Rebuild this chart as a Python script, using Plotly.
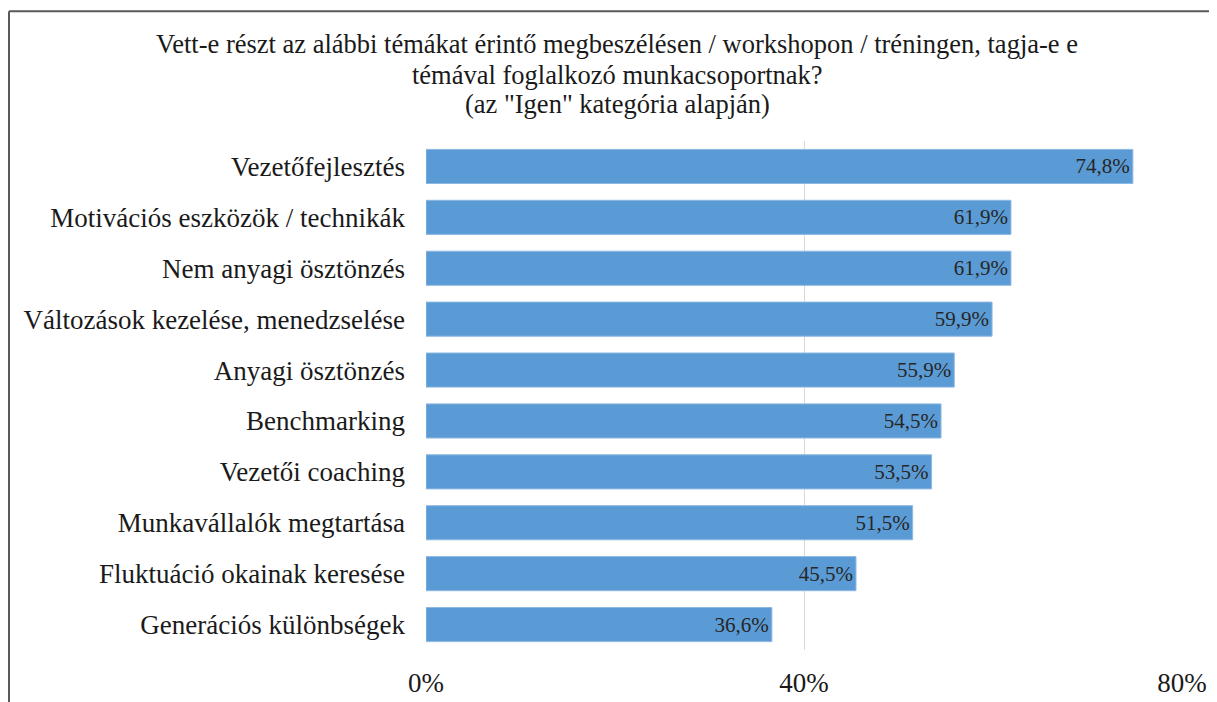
import plotly.graph_objects as go

categories = [
    "Vezetőfejlesztés",
    "Motivációs eszközök / technikák",
    "Nem anyagi ösztönzés",
    "Változások kezelése, menedzselése",
    "Anyagi ösztönzés",
    "Benchmarking",
    "Vezetői coaching",
    "Munkavállalók megtartása",
    "Fluktuáció okainak keresése",
    "Generációs különbségek",
]
values = [74.8, 61.9, 61.9, 59.9, 55.9, 54.5, 53.5, 51.5, 45.5, 36.6]
tick_vals = [0, 40, 80]
tick_text = ["0%", "40%", "80%"]
title_lines = [
    "Vett-e részt az alábbi témákat érintő megbeszélésen / workshopon / tréningen, tagja-e e",
    "témával foglalkozó munkacsoportnak?",
    '(az "Igen" kategória alapján)',
]

# page body has an 8px margin; figure coordinates are offset by it
W, H = 1209, 694
ML, MR, MT, MB = 418, 35, 132.5, 51.5
FONT = "Liberation Serif"
TXT = "#1a1a1a"

labels = [f"{v:.1f}%".replace(".", ",") for v in values]

fig = go.Figure(
    go.Bar(
        x=values,
        y=categories,
        orientation="h",
        marker=dict(color="#5B9BD5", line=dict(color="#8DB8E2", width=1)),
        text=labels,
        textposition="inside",
        insidetextanchor="end",
        textfont=dict(family=FONT, size=21, color="#262626"),
        constraintext="none",
        hoverinfo="skip",
    )
)

pw = W - ML - MR
ph = H - MT - MB


def px_x(p):
    return (p - ML) / pw


def px_y(p):
    return (H - MB - p) / ph


title_y = [35, 66, 95]
annotations = [
    dict(text=t, xref="paper", yref="paper", x=px_x(609), y=px_y(yy),
         xanchor="center", yanchor="middle", showarrow=False,
         font=dict(family=FONT, size=26.5, color=TXT))
    for t, yy in zip(title_lines, title_y)
]

fig.update_layout(
    width=W,
    height=H,
    margin=dict(l=ML, r=MR, t=MT, b=MB, pad=0, autoexpand=False),
    paper_bgcolor="white",
    plot_bgcolor="white",
    bargap=0.33,
    showlegend=False,
    annotations=annotations,
    xaxis=dict(
        range=[0, 80],
        tickvals=tick_vals,
        ticktext=tick_text,
        showgrid=True,
        gridcolor="#D9D9D9",
        gridwidth=1,
        zeroline=False,
        showline=False,
        ticks="",
        automargin=False,
        ticklabelstandoff=14,
        tickfont=dict(family=FONT, size=27, color=TXT),
    ),
    yaxis=dict(
        autorange="reversed",
        showgrid=False,
        zeroline=False,
        showline=False,
        ticks="",
        automargin=False,
        ticklabelstandoff=20,
        tickfont=dict(family=FONT, size=27, color=TXT),
    ),
    shapes=[
        dict(type="line", xref="paper", yref="paper",
             x0=px_x(1), x1=px_x(1230), y0=px_y(2.5), y1=px_y(2.5),
             line=dict(color="#595959", width=2)),
        dict(type="line", xref="paper", yref="paper",
             x0=px_x(1), x1=px_x(1), y0=px_y(2.5), y1=px_y(720),
             line=dict(color="#595959", width=2)),
    ],
)

fig.write_html("out.html")
